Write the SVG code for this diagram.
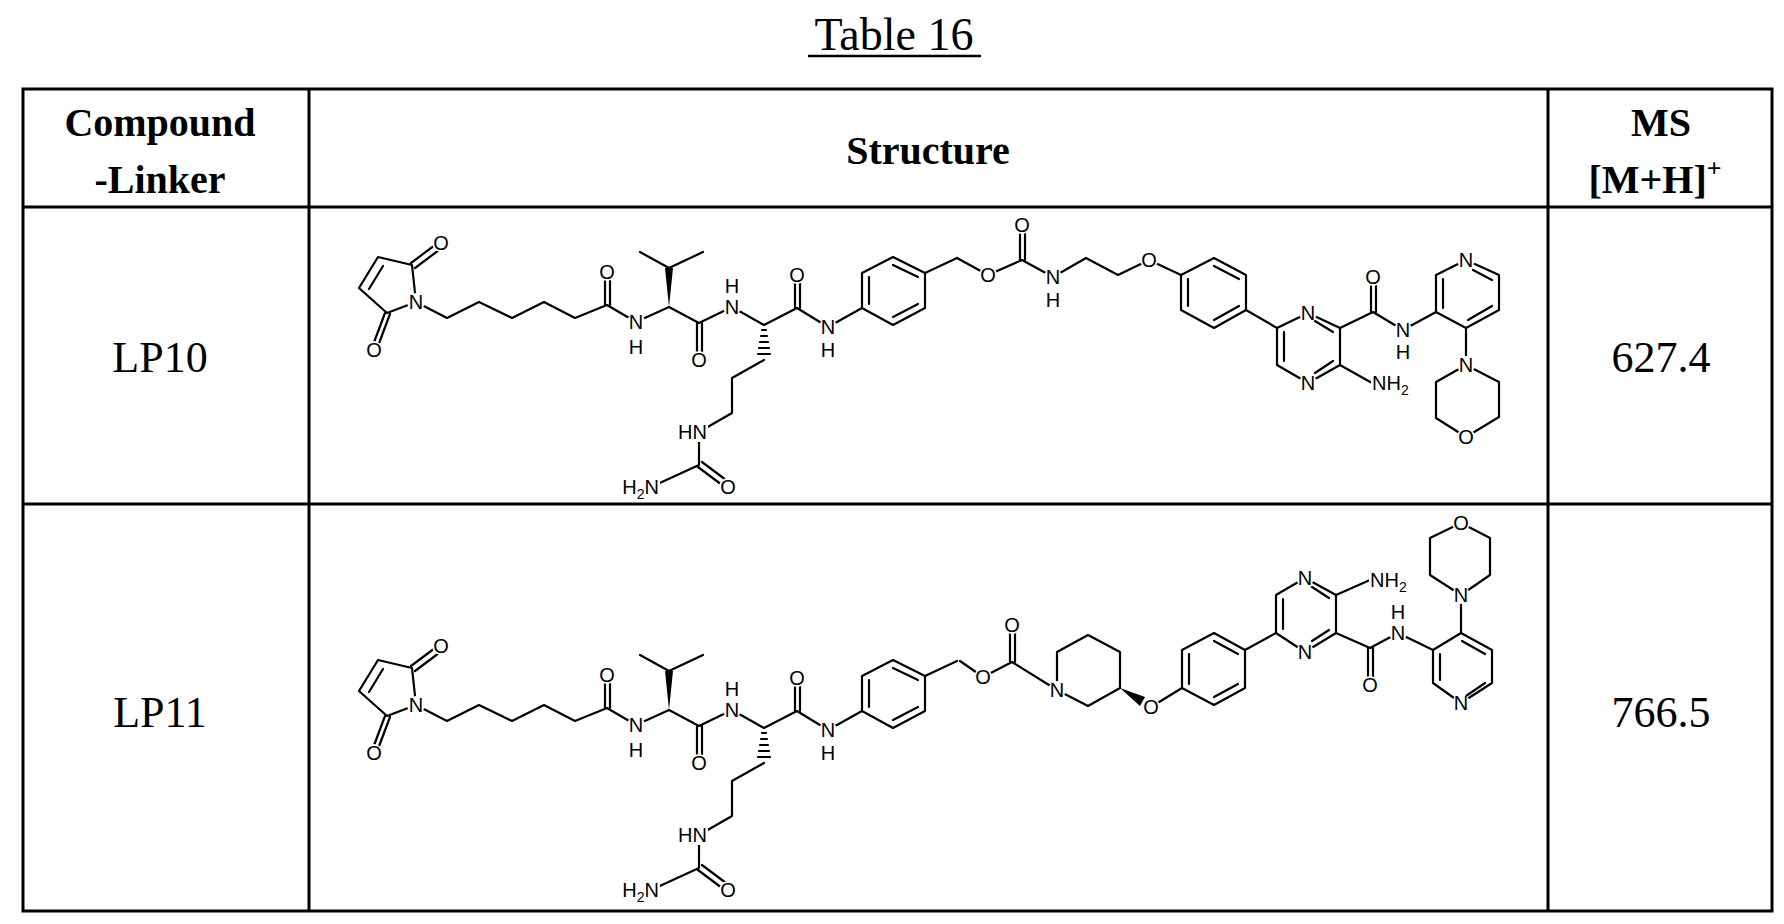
<svg xmlns="http://www.w3.org/2000/svg" xmlns:xlink="http://www.w3.org/1999/xlink" width="1784" height="924" viewBox="0 0 1784 924">
<style>
.t{font-family:"Liberation Serif",serif;fill:#000}
.h{font-family:"Liberation Serif",serif;font-weight:bold;fill:#000;font-size:40px;text-anchor:middle}
.b{fill:none;stroke:#000;stroke-width:2.2;stroke-linejoin:round;stroke-linecap:round}
.a{font-family:"Liberation Sans",Arial,sans-serif;font-size:20px;fill:#000}
.c{text-anchor:middle}
.w{fill:#fff;stroke:none}
.g{fill:none;stroke:#000;stroke-width:3}
</style>
<defs>
<g id="core">
<path class="b" d="M412,265 L378,257 L359,288 L387,313 L416,302 Z M383,266 L369,289 M411,263 L435,245 M415,268 L439,250 M385,313 L373,345 M390,314 L378,346 M416,302 L447,318 L479,302 L512,318 L544,302 L575,318 L607,305 L636,322 L669,307 L699,323 L732,307 L764,325 L797,308 L828,327 L862,308 M605,305 V275 M610,305 V275 M697,323 V357 M702,323 V357 M795,308 V278 M800,308 V278 M669,268 L640,252 M669,268 L703,252 M764,360 L732,378 L732,413 L699,432 L699,465 L651,487 M698,467 L722,485 M702,462 L726,480 M862,308 L862,273 L893,257 L925,273 L925,308 L893,325 Z M869,277 L869,304 M893,265 L918,277 M918,304 L893,317 M925,273 L957,258"/>
<polygon points="669,307 665,268 673,268" fill="#000"/>
<path class="b" stroke-width="1.8" d="M762,330 H766 M761,336 H767 M760,342 H768 M759,348 H769 M758,354 H770"/>
<circle class="w" cx="441" cy="243" r="9"/><text class="a c" x="441" y="250">O</text>
<circle class="w" cx="374" cy="350" r="9"/><text class="a c" x="374" y="357">O</text>
<circle class="w" cx="416" cy="302" r="9"/><text class="a c" x="416" y="309">N</text>
<circle class="w" cx="607" cy="272" r="9"/><text class="a c" x="607" y="279">O</text>
<circle class="w" cx="636" cy="322" r="9"/><text class="a c" x="636" y="329">N</text><text class="a c" x="636" y="354">H</text>
<circle class="w" cx="699" cy="360" r="9"/><text class="a c" x="699" y="367">O</text>
<circle class="w" cx="732" cy="307" r="9"/><text class="a c" x="732" y="314">N</text><text class="a c" x="732" y="293">H</text>
<rect class="w" x="678" y="422" width="30" height="20"/><text class="a" text-anchor="end" x="707" y="439">HN</text>
<circle class="w" cx="728" cy="487" r="9"/><text class="a c" x="728" y="494">O</text>
<rect class="w" x="627" y="476" width="33" height="22"/><text class="a" text-anchor="end" x="659" y="494">H<tspan font-size="14" dy="5">2</tspan><tspan dy="-5">N</tspan></text>
<circle class="w" cx="797" cy="275" r="9"/><text class="a c" x="797" y="282">O</text>
<circle class="w" cx="828" cy="327" r="9"/><text class="a c" x="828" y="334">N</text><text class="a c" x="828" y="357">H</text>
</g>
</defs>

<text class="t" x="894" y="50" font-size="46" text-anchor="middle">Table 16</text>
<line x1="808" y1="56" x2="981" y2="56" stroke="#000" stroke-width="2.5"/>

<g id="table">
<rect class="g" x="23" y="89" width="1749" height="822"/>
<line class="g" x1="23" y1="207" x2="1772" y2="207"/>
<line class="g" x1="23" y1="504" x2="1772" y2="504"/>
<line class="g" x1="309" y1="89" x2="309" y2="911"/>
<line class="g" x1="1548" y1="89" x2="1548" y2="911"/>
<text class="h" x="160" y="136">Compound</text>
<text class="h" x="160" y="193">-Linker</text>
<text class="h" x="928" y="164">Structure</text>
<text class="h" x="1661" y="136">MS</text>
<text class="h" x="1655" y="193">[M+H]<tspan font-size="26" dy="-16">+</tspan></text>
<text class="t" x="160" y="372" font-size="44" text-anchor="middle">LP10</text>
<text class="t" x="1661" y="372" font-size="44" text-anchor="middle">627.4</text>
<text class="t" x="160" y="727" font-size="44" text-anchor="middle">LP11</text>
<text class="t" x="1661" y="727" font-size="44" text-anchor="middle">766.5</text>
</g>

<g id="LP10">
<use xlink:href="#core" href="#core"/>
<path class="b" d="M957,258 L988,275 L1022,260 L1053,277 L1086,258 L1118,275 L1149,260 L1181,275 M1020,260 V228 M1025,260 V228 M1181,275 L1214,258 L1246,275 L1246,310 L1214,328 L1181,310 Z M1188,279 V306 M1214,266 L1239,279 M1239,306 L1214,320 M1246,310 L1277,328 M1277,328 L1308,313 L1340,328 L1340,365 L1308,383 L1277,365 Z M1284,332 V361 M1315,321 L1333,332 M1315,373 L1333,361 M1340,365 L1372,383 M1340,328 L1373,312 L1403,330 L1436,312 M1371,312 V280 M1376,312 V280 M1436,312 L1436,275 L1466,260 L1499,275 L1499,310 L1466,328 Z M1443,279 V308 M1473,270 L1492,280 M1492,306 L1468,320 M1466,328 L1466,365 M1466,365 L1499,382 L1499,417 L1466,437 L1436,418 L1436,382 Z"/>
<circle class="w" cx="988" cy="275" r="9"/><text class="a c" x="988" y="282">O</text>
<circle class="w" cx="1022" cy="225" r="9"/><text class="a c" x="1022" y="232">O</text>
<circle class="w" cx="1053" cy="277" r="9"/><text class="a c" x="1053" y="284">N</text><text class="a c" x="1053" y="307">H</text>
<circle class="w" cx="1149" cy="260" r="9"/><text class="a c" x="1149" y="267">O</text>
<circle class="w" cx="1308" cy="313" r="9"/><text class="a c" x="1308" y="320">N</text>
<circle class="w" cx="1308" cy="383" r="9"/><text class="a c" x="1308" y="390">N</text>
<rect class="w" x="1371" y="372" width="40" height="24"/><text class="a" x="1372" y="390">NH<tspan font-size="14" dy="5">2</tspan></text>
<circle class="w" cx="1373" cy="277" r="9"/><text class="a c" x="1373" y="284">O</text>
<circle class="w" cx="1403" cy="330" r="9"/><text class="a c" x="1403" y="337">N</text><text class="a c" x="1403" y="359">H</text>
<circle class="w" cx="1466" cy="260" r="9"/><text class="a c" x="1466" y="267">N</text>
<circle class="w" cx="1466" cy="365" r="9"/><text class="a c" x="1466" y="372">N</text>
<circle class="w" cx="1466" cy="437" r="9"/><text class="a c" x="1466" y="444">O</text>
</g>

<g id="LP11">
<use xlink:href="#core" href="#core" transform="translate(0,403)"/>
<path class="b" d="M960,661 L983,677 L1012,662 L1057,690 M1010,662 V628 M1015,662 V628 M1057,690 L1057,652 L1088,635 L1120,652 L1120,688 L1088,706 Z M1151,707 L1182,688 M1182,688 L1182,650 L1214,633 L1245,650 L1245,688 L1214,705 Z M1189,654 V684 M1214,641 L1238,654 M1238,684 L1214,697 M1245,650 L1276,633 M1276,633 L1305,652 L1336,633 L1336,595 L1305,578 L1276,595 Z M1283,629 V599 M1312,641 L1329,630 M1312,587 L1329,598 M1336,595 L1370,580 M1336,633 L1370,648 L1398,633 L1433,650 M1368,648 V678 M1373,648 V678 M1433,650 L1433,683 L1461,703 L1492,683 L1492,650 L1461,633 Z M1440,654 V680 M1466,696 L1485,683 M1485,654 L1462,641 M1461,633 L1461,595 M1461,595 L1490,575 L1490,538 L1461,523 L1430,538 L1430,575 Z"/>
<polygon points="1120,688 1145,697 1140,706" fill="#000"/>
<circle class="w" cx="983" cy="677" r="9"/><text class="a c" x="983" y="684">O</text>
<circle class="w" cx="1012" cy="625" r="9"/><text class="a c" x="1012" y="632">O</text>
<circle class="w" cx="1057" cy="690" r="9"/><text class="a c" x="1057" y="697">N</text>
<circle class="w" cx="1151" cy="707" r="9"/><text class="a c" x="1151" y="714">O</text>
<circle class="w" cx="1305" cy="652" r="9"/><text class="a c" x="1305" y="659">N</text>
<circle class="w" cx="1305" cy="578" r="9"/><text class="a c" x="1305" y="585">N</text>
<rect class="w" x="1369" y="569" width="40" height="24"/><text class="a" x="1370" y="587">NH<tspan font-size="14" dy="5">2</tspan></text>
<circle class="w" cx="1370" cy="685" r="9"/><text class="a c" x="1370" y="692">O</text>
<circle class="w" cx="1398" cy="633" r="9"/><text class="a c" x="1398" y="640">N</text><text class="a c" x="1398" y="619">H</text>
<circle class="w" cx="1461" cy="703" r="9"/><text class="a c" x="1461" y="710">N</text>
<circle class="w" cx="1461" cy="595" r="9"/><text class="a c" x="1461" y="602">N</text>
<circle class="w" cx="1461" cy="523" r="9"/><text class="a c" x="1461" y="530">O</text>
</g>
</svg>
